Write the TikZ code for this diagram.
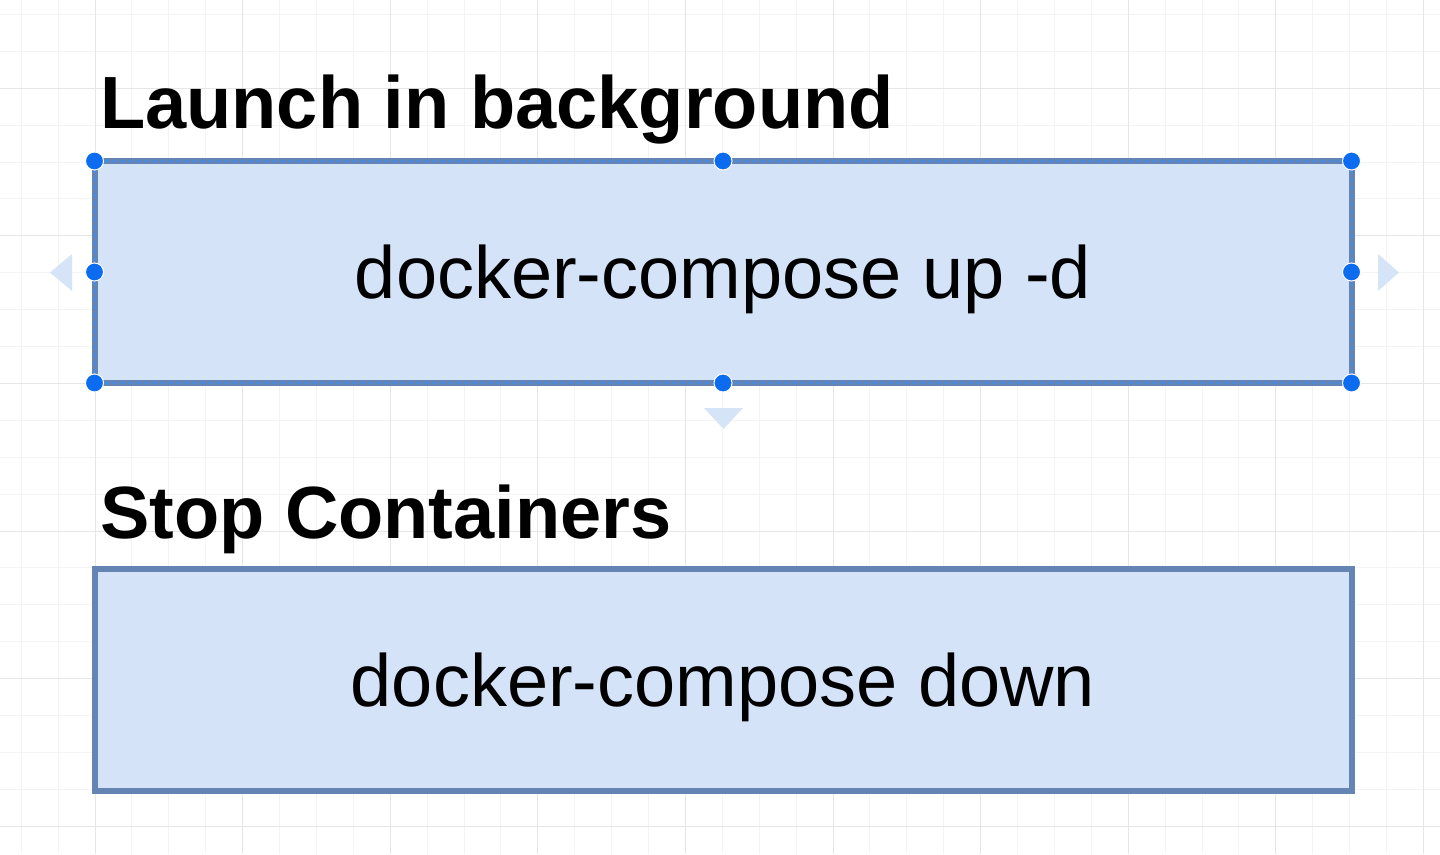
\documentclass[tikz,border=0pt]{standalone}
\usepackage{fontspec}
\setmainfont{Liberation Sans}
\usetikzlibrary{positioning}
\definecolor{BoxFill}{RGB}{213,227,248}
\definecolor{BoxLine}{RGB}{100,132,180}
\definecolor{SelBlue}{RGB}{12,108,240}
\definecolor{SelDash}{RGB}{70,140,230}
\definecolor{HintBlue}{RGB}{214,228,248}
\definecolor{GridMinor}{RGB}{244,244,244}
\definecolor{GridMajor}{RGB}{230,230,230}

\begin{document}
\begin{tikzpicture}[x=1pt, y=-1pt,
  cmdbox/.style={draw=BoxLine, line width=6pt, fill=BoxFill, outer sep=0pt, inner sep=0pt,
    minimum width=1257pt, minimum height=222pt, text depth=0pt, font=\fontsize{74}{80}\selectfont},
  heading/.style={anchor=base west, inner sep=0pt, font=\fontsize{74}{80}\selectfont\bfseries},
  handle/.style={fill=SelBlue, draw=white, line width=1pt},
  hint/.style={fill=HintBlue}]
  \fill[white] (0,0) rectangle (1440,854);
  \useasboundingbox (0,0) rectangle (1440,854);
  % canvas grid
  \foreach \i in {-2,...,36} {
    \pgfmathsetmacro\gx{95+36.9*\i}
    \draw[GridMinor, line width=1pt] (\gx,0) -- (\gx,854);
  }
  \foreach \i in {-4,...,18} {
    \pgfmathsetmacro\gy{162+36.9*\i}
    \draw[GridMinor, line width=1pt] (0,\gy) -- (1440,\gy);
  }
  \foreach \i in {0,...,9} {
    \pgfmathsetmacro\gx{95+147.6*\i}
    \draw[GridMajor, line width=1pt] (\gx,0) -- (\gx,854);
  }
  \foreach \i in {0,...,5} {
    \pgfmathsetmacro\gy{88.2+147.6*\i}
    \draw[GridMajor, line width=1pt] (0,\gy) -- (1440,\gy);
  }

  \node[heading] (launch) at (100,128) {Launch in background};
  \node[cmdbox] (up) at (723,272) {docker-compose up -d};
  \node[heading] (stop) at (100,538) {Stop Containers};
  \node[cmdbox] (down) at (723,680) {docker-compose down};

  % selection of the first box
  \draw[SelDash, line width=2pt, dash pattern=on 4pt off 4pt] (up.north west) rectangle (up.south east);
  \foreach \a in {north west,north,north east,east,south east,south,south west,west}
    \filldraw[handle] (up.\a) circle (9pt);
  \fill[hint] (72,254) -- (72,291) -- (50,272.5) -- cycle;
  \fill[hint] (1378,254) -- (1378,291) -- (1399,272.5) -- cycle;
  \fill[hint] (704,408) -- (743,408) -- (723.5,429) -- cycle;
\end{tikzpicture}
\end{document}
